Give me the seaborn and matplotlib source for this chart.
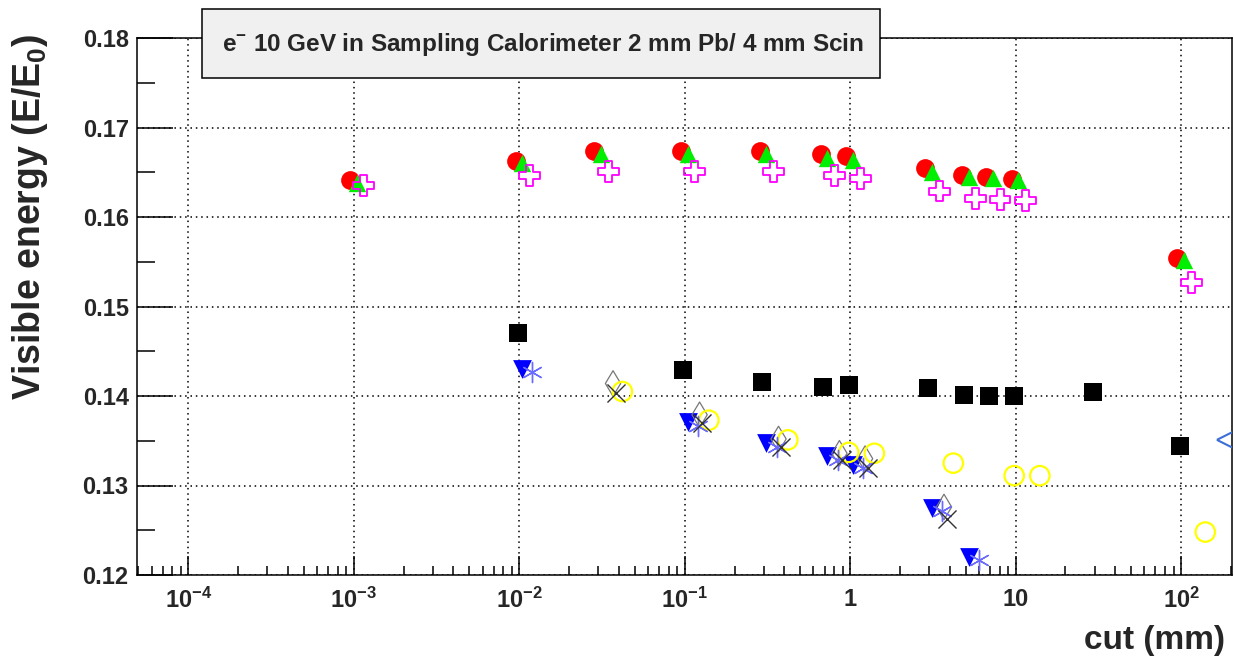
import numpy as np
import pandas as pd
import matplotlib
matplotlib.use("Agg")
import matplotlib.pyplot as plt
import matplotlib.ticker as mticker
from matplotlib.patches import Rectangle
import seaborn as sns

# cut values (mm) and visible energy fractions
cuts_top = [1e-3, 1e-2, 0.03, 0.1, 0.3, 0.7, 1, 3, 5, 7, 10, 100]
red_circle = [0.1641, 0.1663, 0.1674, 0.1674, 0.1674, 0.1670, 0.1668, 0.1655, 0.1647, 0.1645, 0.1643, 0.1554]
green_tri = [0.1638, 0.1660, 0.1670, 0.1670, 0.1670, 0.1666, 0.1664, 0.1650, 0.1645, 0.1644, 0.1641, 0.1552]
magenta_cross = [0.1635, 0.1646, 0.1651, 0.1651, 0.1651, 0.1646, 0.1643, 0.1629, 0.1621, 0.1620, 0.1618, 0.1527]

cuts_square = [1e-2, 0.1, 0.3, 0.7, 1, 3, 5, 7, 10, 30, 100]
black_square = [0.1470, 0.1429, 0.1416, 0.1410, 0.1412, 0.1409, 0.1401, 0.1400, 0.1400, 0.1405, 0.1344]

cuts_blue = [1e-2, 0.1, 0.3, 0.7, 1, 3, 5]
blue_tri = [0.1430, 0.1371, 0.1347, 0.1333, 0.1323, 0.1275, 0.1220]
blue_star = [0.1427, 0.1367, 0.1343, 0.1329, 0.1320, 0.1271, 0.1217]

cuts_gray = [0.03, 0.1, 0.3, 0.7, 1, 3]
gray_diamond = [0.1414, 0.1379, 0.1352, 0.1336, 0.1330, 0.1276]
gray_x = [0.1403, 0.1370, 0.1343, 0.1328, 0.1320, 0.1263]

cuts_yellow = [0.03, 0.1, 0.3, 0.7, 1, 3, 7, 10, 100]
yellow_circle = [0.1405, 0.1373, 0.1351, 0.1337, 0.1336, 0.1325, 0.1311, 0.1311, 0.1248]

cuts_left = [100]
blue_left = [0.1351]

x_decades = [1e-4, 1e-3, 1e-2, 1e-1, 1, 10, 100]

sns.set_style("white")
plt.rcParams["font.family"] = ["Liberation Sans", "DejaVu Sans"]
plt.rcParams["mathtext.fontset"] = "custom"
plt.rcParams["mathtext.rm"] = "Liberation Sans:bold"
plt.rcParams["mathtext.bf"] = "Liberation Sans:bold"
plt.rcParams["mathtext.it"] = "Liberation Sans:bold"

W, H = 1234, 662
fig = plt.figure(figsize=(W / 100, H / 100), dpi=100)
ax = fig.add_axes([137 / W, 1 - 575 / H, (1232 - 137) / W, (575 - 38) / H])

# (cuts, values, dodge factor, marker, size, face, edge, lw)
series = [
    (cuts_top, red_circle, 0.95, "o", 13.5, "#ff0000", "#ff0000", 0),
    (cuts_top, green_tri, 1.04, "^", 12.5, "#00ee00", "#00ee00", 0),
    (cuts_top, magenta_cross, 1.15, "P", 15, "none", "#ff00ff", 1.3),
    (cuts_square, black_square, 0.98, "s", 13.5, "black", "black", 0),
    (cuts_blue, blue_tri, 1.04, "v", 13.5, "#0000ff", "#0000ff", 0),
    (cuts_gray, gray_diamond, 1.23, "d", 13, "none", "#777777", 0.9),
    (cuts_yellow, yellow_circle, 1.4, "o", 14, "none", "#ffff00", 1.6),
    (cuts_left, blue_left, 1.92, "<", 16, "none", "#3b6fd6", 1.5),
]
for cuts, vals, dodge, mk, ms, fc, ec, lw in series:
    df = pd.DataFrame({"x": np.array(cuts) * dodge, "y": vals})
    sns.scatterplot(data=df, x="x", y="y", ax=ax, marker=mk, s=ms ** 2,
                    facecolor=fc, edgecolor=ec, linewidth=lw, zorder=3)

# unfilled line markers
for cuts, vals, dodge, mk, ms, col, lw in [
    (cuts_blue, blue_star, 1.2, (6, 2, 0), 14.5, "#6a6aff", 1.0),
    (cuts_gray, gray_x, 1.28, "x", 13, "#333333", 1.0),
]:
    df = pd.DataFrame({"x": np.array(cuts) * dodge, "y": vals})
    sns.scatterplot(data=df, x="x", y="y", ax=ax, marker=mk, s=ms ** 2,
                    color=col, linewidth=lw, zorder=3)

ax.set_xscale("log")
ax.set_xlim(4.9e-5, 203)
ax.set_ylim(0.12, 0.18)

def xfmt(v, pos):
    e = int(round(np.log10(v)))
    if e == 0:
        return "1"
    if e == 1:
        return "10"
    return r"$\mathbf{10^{%d}}$" % e

minor_x = [m * d for d in [1e-5, 1e-4, 1e-3, 1e-2, 1e-1, 1, 10, 100] for m in range(2, 10)]
minor_x = [v for v in minor_x if 4.9e-5 < v < 203]
ax.xaxis.set_major_locator(mticker.FixedLocator(x_decades))
ax.xaxis.set_minor_locator(mticker.FixedLocator(minor_x))
ax.xaxis.set_major_formatter(mticker.FuncFormatter(xfmt))
ax.xaxis.set_minor_formatter(mticker.NullFormatter())
ax.yaxis.set_major_locator(mticker.MultipleLocator(0.01))
ax.yaxis.set_minor_locator(mticker.MultipleLocator(0.005))
ax.yaxis.set_major_formatter(mticker.FormatStrFormatter("%.2f"))

ax.tick_params(axis="x", which="major", direction="in", length=13.5, width=1.1,
               labelsize=17, pad=9, bottom=True, top=False, color="black")
ax.tick_params(axis="x", which="minor", direction="in", length=6.5, width=1.1,
               bottom=True, top=False, color="black")
ax.tick_params(axis="y", which="major", direction="in", length=26, width=1.1,
               labelsize=17, pad=6, left=True, right=False, color="black")
ax.tick_params(axis="y", which="minor", direction="in", length=13, width=1.1,
               left=True, right=False, color="black")
for lab in ax.get_xticklabels() + ax.get_yticklabels():
    lab.set_fontweight("bold")

ax.grid(True, which="major", color="black", linestyle=(0, (1, 2.5)), linewidth=1.1)
ax.grid(False, which="minor")
for sp in ax.spines.values():
    sp.set_color("black")
    sp.set_linewidth(1.1)

ax.set_xlabel("")
ax.set_ylabel("")
fig.text(1225 / W, 1 - 640 / H, "cut (mm)", ha="right", va="center",
         fontsize=24, fontweight="bold")
fig.text(30 / W, 1 - 217 / H, r"Visible energy (E/E$_{\mathbf{0}}$)", rotation=90,
         ha="center", va="center", fontsize=27, fontweight="bold")

# title pave
fig.patches.append(Rectangle((202 / W, 1 - 78 / H), (880 - 202) / W, (78 - 9) / H,
                             transform=fig.transFigure, facecolor="#f0f0f0",
                             edgecolor="black", linewidth=1.1, zorder=5))
fig.text(222 / W, 1 - 44 / H, r"e$^{-}$ 10 GeV in Sampling Calorimeter 2 mm Pb/ 4 mm Scin",
         ha="left", va="center", fontsize=17.5, fontweight="bold", zorder=6)

fig.savefig("out.png", dpi=100)
